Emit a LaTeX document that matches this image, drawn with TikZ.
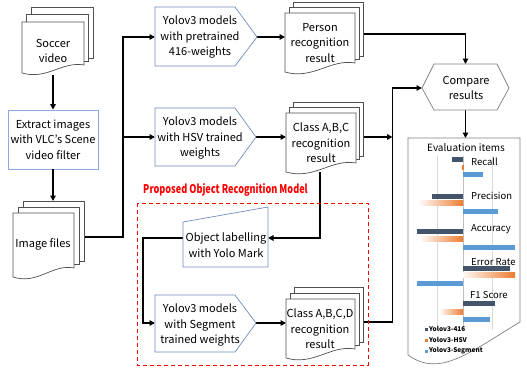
\documentclass[tikz,border=0pt]{standalone}
\usepackage{fontspec}
\usepackage{graphicx}
\setmainfont{Noto Sans CJK KR}
\usetikzlibrary{arrows.meta}
\definecolor{pentb}{RGB}{112,140,192}
\definecolor{boxb}{RGB}{143,170,220}
\definecolor{docb}{RGB}{80,80,80}
\definecolor{hexb}{RGB}{128,128,128}
\definecolor{dkbar}{RGB}{68,84,106}
\definecolor{orbar}{RGB}{237,125,49}
\definecolor{blbar}{RGB}{91,155,213}
\definecolor{gridc}{RGB}{217,217,217}
\definecolor{axisc}{RGB}{191,191,191}
\definecolor{redt}{RGB}{255,0,0}
\newcommand\mdoc[7]{% x0 y0 x1 yL yR dx dy
  \foreach \k in {2,1}{
    \draw[docline,fill=white] ({#1+\k*#6},{#2-\k*#7}) rectangle ({#3+\k*#6},{#5-\k*3.5});
  }
  \draw[docline,fill=white] (#1,#2) -- (#3,#2) -- (#3,#5) .. controls ({#3-0.35*(#3-#1)},{#5-0.5*(#4-#5)}) and ({#1+0.4*(#3-#1)},{#4+0.9*(#4-#5)}) .. (#1,#4) -- cycle;
}
\begin{document}
\begin{tikzpicture}[x=1pt,y=-1pt,
  docline/.style={draw=docb,line width=0.7pt},
  txt/.style={align=center,font=\fontsize{11}{15.5}\selectfont,inner sep=0pt},
  conn/.style={line width=1.8pt,-{Triangle[length=5.5pt,width=5.5pt]}},
  pent/.style={draw=pentb,line width=0.7pt,fill=white},
  lbl/.style={font=\fontsize{9.5}{10}\selectfont,inner sep=0pt,anchor=west},
  leg/.style={font=\bfseries\fontsize{6.5}{7}\selectfont,inner sep=0pt,anchor=west}]
\useasboundingbox (0,0) rectangle (527,367);

% ---------- connector end points ----------
\coordinate (soccer-s) at (53,75);
\coordinate (img-n) at (53,201);
\coordinate (img-e) at (84,237);
\coordinate (bus1) at (123,237);
\coordinate (bus2) at (123,137);
\coordinate (p1-w) at (155,37);
\coordinate (p1-e) at (257,37);
\coordinate (p2-w) at (155,137);
\coordinate (p2-e) at (256,137);
\coordinate (p3-w) at (155,323);
\coordinate (p3-e) at (256,323);
\coordinate (person-w) at (285,37);
\coordinate (person-e) at (363,34);
\coordinate (abc-w) at (286,137);
\coordinate (abc-e) at (363,137);
\coordinate (abc-s) at (320,172);
\coordinate (abcd-w) at (286,323);
\coordinate (abcd-e) at (363,322);
\coordinate (lab-e) at (268,238);
\coordinate (lab-w) at (183,238);
\coordinate (lab-turn) at (143,238);
\coordinate (bus3) at (392.5,322);
\coordinate (bus4) at (392.5,137);
\coordinate (cmp-w) at (422,88);
\coordinate (cmp-n) at (465.5,64);
\coordinate (cmp-s) at (465.5,110);
\coordinate (eval-n) at (465.5,138);

\draw[conn] (img-e) -- (bus1) |- (p1-w);
\draw[conn] (bus2) -- (p2-w);
\draw[conn] (p1-e) -- (person-w);
\draw[conn] (p2-e) -- (abc-w);
\draw[conn] (p3-e) -- (abcd-w);
\draw[conn] (person-e) -| (cmp-n);
\draw[conn] (abcd-e) -- (bus3) |- (cmp-w);
\draw[conn] (abc-e) -- (bus4);
\draw[conn] (abc-s) |- (lab-e);
\draw[conn] (lab-w) -- (lab-turn) |- (p3-w);
\draw[conn] (cmp-s) -- (eval-n);

% ---------- left column ----------
\mdoc{22}{22}{84}{73}{65}{4.5}{7.5}
\node[txt] (soccer) at (53,51) {Soccer\\video};
\node[txt,draw=boxb,line width=0.8pt,fill=white,minimum width=90pt,minimum height=59pt] (extract) at (53,139.5) {Extract images\\with VLC's Scene\\video filter};
\draw[conn] (extract.south) -- (img-n);
\draw[conn] (soccer-s) -- (extract.north);
\mdoc{13}{213}{74}{277}{268}{5}{6}
\node[txt] (img) at (43,244) {Image files};

% ---------- pentagons ----------
\draw[pent] (155,7) -- (235,7) -- (257,37) -- (235,66) -- (155,66) -- cycle;
\node[txt] (p1) at (200,37) {Yolov3 models\\with pretrained\\416-weights};
\draw[pent] (155,108) -- (235,108) -- (256,137) -- (235,166) -- (155,166) -- cycle;
\node[txt] (p2) at (200,138) {Yolov3 models\\with HSV trained\\weights};
\draw[pent] (155,295) -- (235,295) -- (256,323) -- (235,352) -- (155,352) -- cycle;
\node[txt] (p3) at (200,325) {Yolov3 models\\with Segment\\trained weights};

% ---------- result documents ----------
\mdoc{285}{13}{355}{72}{63}{4}{5.5}
\node[txt] (person) at (320,43) {Person\\recognition\\result};
\mdoc{286}{113}{356}{172}{163}{3.5}{5.5}
\node[txt] (abc) at (321,143) {Class A,B,C\\recognition\\result};
\mdoc{286}{299}{355}{358}{349}{4}{6}
\node[txt] (abcd) at (320,329) {Class A,B,C,D\\recognition\\result};

% ---------- object labelling ----------
\draw[pent] (183,222) -- (268,207) -- (268,267) -- (183,267) -- cycle;
\node[txt] (lab) at (226,245) {Object labelling\\with Yolo Mark};

% ---------- proposed model frame ----------
\draw[redt,line width=1pt,dash pattern=on 4pt off 3pt] (137,203) rectangle (368,365);
\node[font=\bfseries\fontsize{12}{12}\selectfont,text=redt,inner sep=0pt] (ptitle) at (225.5,190) {\scalebox{0.76}[1]{Proposed Object Recognition Model}};

% ---------- compare ----------
\draw[draw=hexb,line width=0.7pt,fill=white] (422,88) -- (434,64) -- (497,64) -- (509,88) -- (497,110) -- (434,110) -- cycle;
\node[txt] (cmp) at (466,88) {Compare\\results};

% ---------- evaluation chart ----------
\draw[draw=hexb,line width=0.7pt,fill=white] (408,138) -- (520,138) -- (520,322) .. controls (470,352) and (440,378) .. (408,355) -- cycle;
\node[font=\fontsize{10}{11}\selectfont,inner sep=0pt] (evt) at (466,148) {Evaluation items};
\draw[gridc,line width=0.6pt] (437,156) -- (437,330) (492,156) -- (492,330);
\draw[axisc,line width=0.6pt] (463,156) -- (463,330);
% Recall
\fill[dkbar] (452,156.5) rectangle (463,161.5);
\fill[orbar] (462,164.5) rectangle (463.5,169.5);
\fill[blbar] (463,171.5) rectangle (483,176.5);
% Precision
\fill[dkbar] (432,193.5) rectangle (463,198.5);
\shade[left color=orbar!5,right color=orbar] (420,200.5) rectangle (463,205.5);
\fill[blbar] (463,208.5) rectangle (498,213.5);
% Accuracy
\fill[dkbar] (417,228.5) rectangle (463,233.5);
\shade[left color=orbar!5,right color=orbar] (421,236.5) rectangle (463,241.5);
\fill[blbar] (463,244.5) rectangle (515,249.5);
% Error Rate
\fill[dkbar] (463,265.5) rectangle (510,270.5);
\shade[left color=orbar!5,right color=orbar] (463,272.5) rectangle (515,277.5);
\fill[blbar] (417,280.5) rectangle (463,285.5);
% F1 Score
\fill[dkbar] (463,300.5) rectangle (495,305.5);
\shade[left color=orbar!5,right color=orbar] (440,309.5) rectangle (463,314.5);
\fill[blbar] (463,316.5) rectangle (490,321.5);
\node[lbl] (l1) at (471,162) {Recall};
\node[lbl] (l2) at (471,196) {Precision};
\node[lbl] (l3) at (471,229) {Accuracy};
\node[lbl] (l4) at (471,262) {Error Rate};
\node[lbl] (l5) at (470,295) {F1 Score};
\fill[dkbar] (424.5,327.5) rectangle (427.5,330.5);
\node[leg] (g1) at (429,329) {Yolov3-416};
\fill[orbar] (424.5,338.5) rectangle (427.5,341.5);
\node[leg] (g2) at (429,340) {Yolov3-HSV};
\fill[blbar] (424.5,349.5) rectangle (427.5,352.5);
\node[leg] (g3) at (429,351) {Yolov3-Segment};
\end{tikzpicture}
\end{document}
